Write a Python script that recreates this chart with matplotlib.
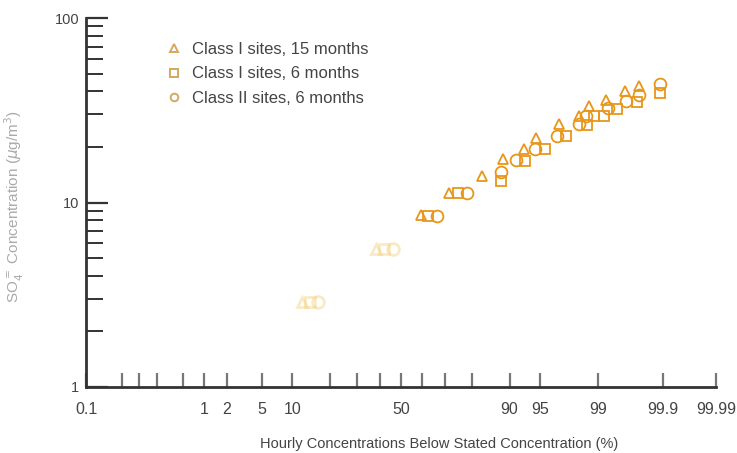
import matplotlib
matplotlib.use('Agg')
import matplotlib.pyplot as plt
from matplotlib.lines import Line2D
from statistics import NormalDist

# percent of hours below the stated concentration, and the concentration (ug/m3)
c1_15_pct = [12.2, 38.5, 59.2, 71.3, 83.1, 88.6, 92.7, 94.4, 96.9, 98.2, 98.69, 99.23, 99.59, 99.75]
c1_15_conc = [2.9, 5.6, 8.6, 11.3, 13.9, 17.3, 19.6, 22.4, 26.6, 29.3, 33.2, 36.1, 40.0, 43.0]

c1_6_pct = [14.2, 42.2, 62.7, 75.1, 88.2, 92.9, 95.5, 97.45, 98.59, 98.88, 99.18, 99.46, 99.73, 99.89]
c1_6_conc = [2.9, 5.6, 8.5, 11.2, 13.0, 16.7, 19.6, 22.8, 26.2, 29.5, 29.3, 32.2, 35.1, 39.2]

c2_6_pct = [16.4, 46.3, 66.6, 78.2, 88.2, 91.24, 94.28, 96.7, 98.2, 98.57, 99.27, 99.60, 99.75, 99.89]
c2_6_conc = [2.9, 5.6, 8.5, 11.3, 14.7, 17.0, 19.6, 22.8, 26.8, 29.5, 32.5, 35.6, 38.4, 44.0]

series_labels = ['Class I sites, 15 months', 'Class I sites, 6 months', 'Class II sites, 6 months']

# probability axis ticks
x_tick_pct = [0.01, 1, 2, 5, 10, 50, 90, 95, 99, 99.9, 99.99]
x_tick_labels = ['0.1', '1', '2', '5', '10', '50', '90', '95', '99', '99.9', '99.99']
x_minor_pct = [0.05, 0.1, 0.2, 0.5, 20, 30, 40, 60, 70, 80]

y_ticks = [1, 10, 100]
y_tick_labels = ['1', '10', '100']

nd = NormalDist()


def prob(p):
    # percent -> normal quantile
    return nd.inv_cdf(p / 100.0)


orange = '#E8961A'
legend_col = '#D6A75C'
text_col = '#444444'
faded_below = 7.0   # lower points are printed very light

plt.rcParams['font.family'] = ['Liberation Sans', 'DejaVu Sans']

fig = plt.figure(figsize=(7.37, 4.53), dpi=100)
ax = fig.add_axes([86 / 737, 66 / 453, 630 / 737, 369 / 453])

markers = ['^', 's', 'o']
sizes = [7.5, 7, 8.5]
for (pct, conc), m, ms in zip([(c1_15_pct, c1_15_conc), (c1_6_pct, c1_6_conc), (c2_6_pct, c2_6_conc)],
                              markers, sizes):
    xs = [prob(p) for p in pct]
    hi = [(x, c) for x, c in zip(xs, conc) if c >= faded_below]
    lo = [(x, c) for x, c in zip(xs, conc) if c < faded_below]
    ax.plot([a for a, b in hi], [b for a, b in hi], ls='none', marker=m, ms=ms,
            mfc='none', mec=orange, mew=1.3)
    ax.plot([a for a, b in lo], [b for a, b in lo], ls='none', marker=m, ms=ms,
            mfc='none', mec='#F0C560', mew=2.0, alpha=0.35)

ax.set_yscale('log')
ax.set_ylim(1, 100)
ax.set_xlim(prob(0.01), prob(99.99))

ax.set_yticks(y_ticks)
ax.set_yticklabels(y_tick_labels)
ax.tick_params(axis='y', which='major', direction='in', length=16, width=1.6,
               color='#333333', labelsize=10.5, labelcolor=text_col, pad=5)
ax.tick_params(axis='y', which='minor', direction='in', length=12, width=1.4, color='#333333')
ax.yaxis.set_minor_formatter(plt.NullFormatter())
# the "2" mark is printed lighter
ax.yaxis.get_minor_ticks()[0].tick1line.set_color('#BBBBBB')

ax.set_xticks([prob(p) for p in x_tick_pct])
ax.set_xticklabels(x_tick_labels)
ax.set_xticks([prob(p) for p in x_minor_pct], minor=True)
ax.tick_params(axis='x', which='both', direction='in', length=10, width=1.6,
               color='#777777', labelsize=11.5, labelcolor=text_col, pad=11)

for s in ['top', 'right']:
    ax.spines[s].set_visible(False)
for s in ['left', 'bottom']:
    ax.spines[s].set_linewidth(2)
    ax.spines[s].set_color('#333333')

ax.set_xlabel('Hourly Concentrations Below Stated Concentration (%)',
              fontsize=10.5, color=text_col)
ax.xaxis.set_label_coords(0.56, -0.135)
ax.set_ylabel(r'SO$_4^=$ Concentration ($\mu$g/m$^3$)', fontsize=11,
              color='#AAAAAA')
ax.yaxis.set_label_coords(-0.095, 0.49)

handles = [Line2D([], [], ls='none', marker=m, ms=5.5, mfc='none', mec=legend_col, mew=1.4)
           for m in markers]
ax.legend(handles, series_labels, loc='upper left', bbox_to_anchor=(0.1, 0.975),
          frameon=False, fontsize=12, labelcolor=text_col, handletextpad=0.5,
          labelspacing=0.55, handlelength=1.2)

plt.savefig('out.png', dpi=100)
